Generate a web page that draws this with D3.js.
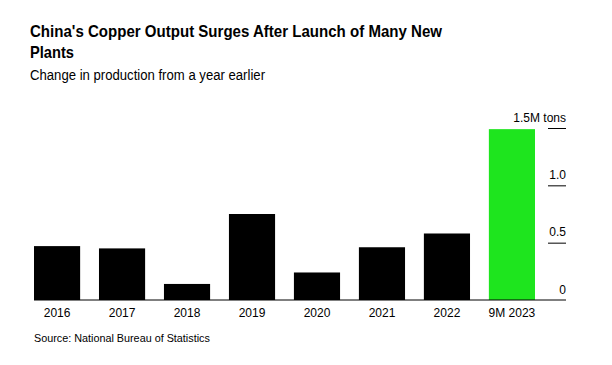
<!DOCTYPE html>
<html><head><meta charset="utf-8">
<script src="https://cdn.jsdelivr.net/npm/d3@7"></script>
<style>
body{margin:0;background:#fff;}
text{font-family:"Liberation Sans",Arial,Helvetica,sans-serif;}
</style></head>
<body>
<svg id="chart" width="612" height="365"></svg>
<script>
const categories = ["2016","2017","2018","2019","2020","2021","2022","9M 2023"];
const values = [0.47, 0.45, 0.14, 0.75, 0.24, 0.46, 0.58, 1.49];
const highlight = ["9M 2023"];
const tickValues = [0, 0.5, 1.0, 1.5];
const tickLabels = ["0", "0.5", "1.0", "1.5M tons"];

const svg = d3.select("#chart");
svg.append("rect").attr("width",612).attr("height",365).attr("fill","#fff");

const title1 = "China's Copper Output Surges After Launch of Many New";
const title2 = "Plants";
svg.append("text").attr("x",30).attr("y",37).attr("font-size",16.5).attr("font-weight","bold").attr("fill","#000")
  .attr("textLength",412).attr("lengthAdjust","spacingAndGlyphs").text(title1);
svg.append("text").attr("x",30).attr("y",57.5).attr("font-size",16.5).attr("font-weight","bold").attr("fill","#000")
  .attr("textLength",44).attr("lengthAdjust","spacingAndGlyphs").text(title2);
svg.append("text").attr("x",30).attr("y",80).attr("font-size",14).attr("fill","#000")
  .attr("textLength",235).attr("lengthAdjust","spacingAndGlyphs").text("Change in production from a year earlier");

const x = d3.scaleBand().domain(categories).range([34, 535]).paddingInner(0.29).paddingOuter(0);
const y = d3.scaleLinear().domain([0, 1.5]).range([300, 128]);

svg.selectAll("rect.bar").data(categories).enter().append("rect")
  .attr("class","bar")
  .attr("x", d => x(d))
  .attr("width", x.bandwidth())
  .attr("y", (d,i) => y(values[i]))
  .attr("height", (d,i) => y(0) - y(values[i]))
  .attr("fill", d => highlight.includes(d) ? "#1ee51e" : "#000");

// baseline
svg.append("line").attr("x1",34).attr("x2",566).attr("y1",y(0)).attr("y2",y(0)).attr("stroke","#000").attr("stroke-width",1);

// y axis on right
const yAxis = d3.axisRight(y).tickValues(tickValues).tickSize(0).tickFormat((d,i)=>tickLabels[i]);
const ya = svg.append("g").attr("transform","translate(566,0)").call(yAxis);
ya.select(".domain").remove();
ya.selectAll("text").attr("x",0).attr("dy",0).attr("y",-7).attr("text-anchor","end")
  .attr("font-size",12).attr("fill","#000").style("font-family","Liberation Sans, Arial, sans-serif");
ya.selectAll(".tick").filter(d => d>0).append("line").attr("x1",-18).attr("x2",0).attr("y1",0).attr("y2",0).attr("stroke","#000").attr("stroke-width",1);

// x axis
const xAxis = d3.axisBottom(x).tickSize(0).tickPadding(0);
const xa = svg.append("g").attr("transform",`translate(0,${y(0)})`).call(xAxis);
xa.select(".domain").remove();
xa.selectAll("text").attr("y",17).attr("dy",0).attr("font-size",12).attr("fill","#000").style("font-family","Liberation Sans, Arial, sans-serif");

svg.append("text").attr("x",34).attr("y",342).attr("font-size",10.8).attr("fill","#000").text("Source: National Bureau of Statistics");
</script>
</body></html>
